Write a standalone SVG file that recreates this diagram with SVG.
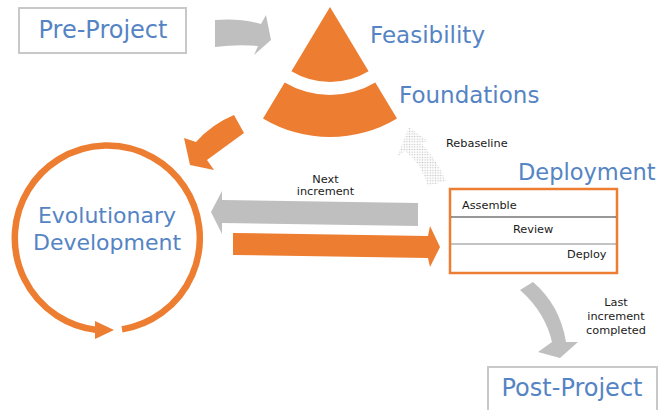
<svg xmlns="http://www.w3.org/2000/svg" width="661" height="410" viewBox="0 0 661 410">
<style>
.blue{font-family:"DejaVu Sans",Verdana,sans-serif;fill:#5584C4}
.small{font-family:"DejaVu Sans",Verdana,sans-serif;font-size:11.3px;fill:#1a1a1a}
.orange{fill:#ED7D31}
.grey{fill:#BFBFBF}
.box{fill:#fff;stroke:#C8C8C8;stroke-width:2}
</style>
<defs>
<pattern id="dots" width="2.6" height="2.6" patternUnits="userSpaceOnUse">
<circle cx="1.3" cy="1.3" r="0.75" fill="#C4C4C4"/>
</pattern>
</defs>
<rect width="661" height="410" fill="#fff"/>

<g id="pre-project">
<rect class="box" x="19" y="8" width="167" height="45"/>
<text class="blue" x="103" y="38" font-size="24" text-anchor="middle">Pre-Project</text>
</g>

<g id="feasibility">
<path class="orange" d="M330,7 L291.4,71.3 A75,75 0 0 0 368.6,71.3 Z"/>
<text class="blue" x="370" y="43" font-size="23">Feasibility</text>
</g>

<g id="foundations">
<path class="orange" d="M284.7,82.4 A88,88 0 0 0 375.3,82.4 L397,118.4 A130,130 0 0 1 263,118.4 Z"/>
<text class="blue" x="399" y="103" font-size="23">Foundations</text>
</g>

<g id="evolutionary-development">
<path d="M122,329.4 A92.5,92.5 0 1 0 97,330" fill="none" stroke="#ED7D31" stroke-width="6.5"/>
<polygon class="orange" points="95,321 114,330 95,339"/>
<text class="blue" x="107" y="223" font-size="22" text-anchor="middle">Evolutionary</text>
<text class="blue" x="107" y="250" font-size="22" text-anchor="middle">Development</text>
</g>

<g id="deployment">
<text class="blue" x="518" y="180" font-size="22.5">Deployment</text>
<rect x="450" y="189" width="167" height="84" fill="#fff" stroke="#ED7D31" stroke-width="2.5"/>
<line x1="451" y1="217" x2="616" y2="217" stroke="#333" stroke-width="1"/>
<line x1="451" y1="244" x2="616" y2="244" stroke="#888" stroke-width="1"/>
<text class="small" x="462" y="209">Assemble</text>
<text class="small" x="513" y="233">Review</text>
<text class="small" x="567" y="258">Deploy</text>
</g>

<g id="post-project">
<rect class="box" x="488" y="367" width="169" height="50"/>
<text class="blue" x="572" y="396" font-size="24" text-anchor="middle">Post-Project</text>
</g>

<g id="connectors">
<path class="grey" d="M215,20 Q240,18 261,24 L266,15 L271,40 L254,55 L258,46 Q238,44 215,47 Z"/>
<path class="orange" d="M234,115 Q212,124 196,142 L184,138 L190,165 L214,170 L207,160 Q226,146 244,133 Z"/>
<path class="grey" d="M418,203 L222,200 L222,191 L211,212 L222,234 L222,223 L418,226 Z"/>
<path class="orange" d="M233,233 L428,236 L430,226 L440,247 L430,267 L428,258 L233,255 Z"/>
<path fill="url(#dots)" d="M409,127 L428,141 L421,143 Q436,158 446,181 L428,186 Q421,163 405,151 L397,157 Z"/>
<path class="grey" d="M520,290 L533,282 Q560,305 566,342 L578,342 L560,358 L538,352 L552,342 Q545,312 520,290 Z"/>
<text class="small" x="446" y="147">Rebaseline</text>
<text class="small" x="325.5" y="183" text-anchor="middle">Next</text>
<text class="small" x="325.5" y="195" text-anchor="middle">increment</text>
<text class="small" x="616" y="306" text-anchor="middle">Last</text>
<text class="small" x="616" y="320" text-anchor="middle">increment</text>
<text class="small" x="616" y="334" text-anchor="middle">completed</text>
</g>
</svg>
